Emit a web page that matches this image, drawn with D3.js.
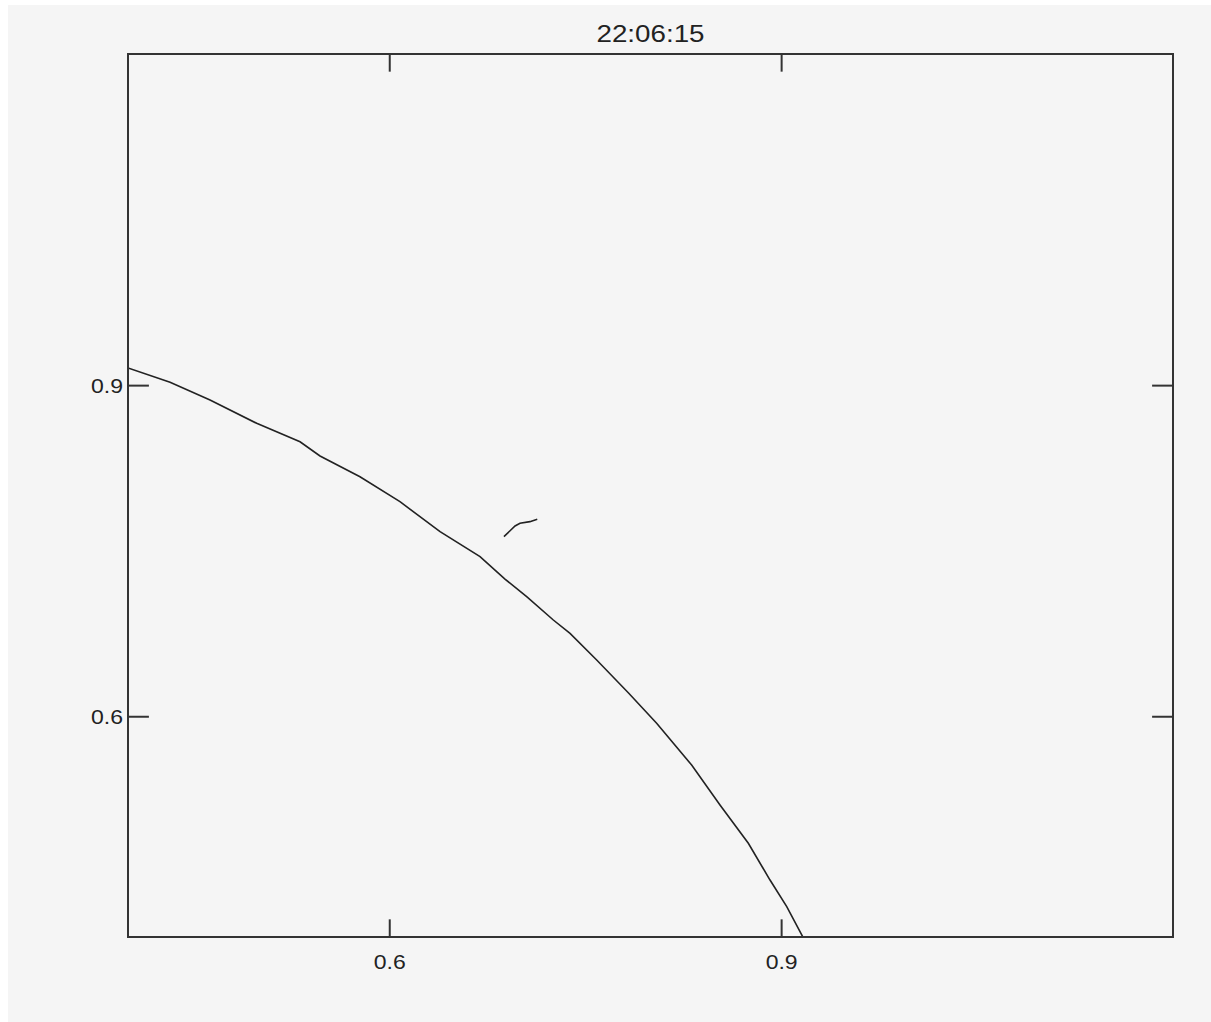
<!DOCTYPE html>
<html>
<head>
<meta charset="utf-8">
<script src="https://cdn.jsdelivr.net/npm/d3@7"></script>
<style>
  html, body { margin: 0; padding: 0; background: #ffffff; }
  svg { display: block; }
  text { font-family: "Liberation Sans", Arial, sans-serif; fill: #222; }
</style>
</head>
<body>
<svg id="chart" width="1211" height="1022"></svg>
<script>
const titleText = "22:06:15";
const xDomain = [0.4, 1.2];
const yDomain = [0.4, 1.2];
const xTickValues = [0.6, 0.9];
const yTickValues = [0.6, 0.9];
const xTickLabels = ["0.6", "0.9"];
const yTickLabels = ["0.6", "0.9"];

// main curve
const curveX = [0.390, 0.400, 0.4322, 0.4628, 0.4985, 0.5317, 0.547, 0.5776, 0.6082, 0.6389, 0.6695,
  0.6886, 0.7052, 0.7256, 0.7384, 0.7588, 0.783, 0.8047, 0.8315, 0.8532, 0.8749, 0.8915, 0.9043, 0.9165, 0.920];
const curveY = [0.921, 0.9155, 0.9026, 0.8865, 0.8654, 0.8487, 0.8358, 0.817, 0.7944, 0.7672, 0.7446,
  0.7243, 0.7083, 0.6872, 0.6751, 0.651, 0.6213, 0.5936, 0.5558, 0.5196, 0.4849, 0.4516, 0.4275, 0.4003, 0.393];

// small fragment
const fragX = [0.6878, 0.6963, 0.7001, 0.7077, 0.7133];
const fragY = [0.7627, 0.7724, 0.7748, 0.7763, 0.7784];

const W = 1211, H = 1022;
const margin = { left: 128, right: 1173, top: 54, bottom: 937 };

const svg = d3.select("#chart");
svg.append("rect").attr("x", 8).attr("y", 5).attr("width", W - 8).attr("height", H - 5).attr("fill", "#f5f5f5");

const x = d3.scaleLinear().domain(xDomain).range([margin.left, margin.right]);
const y = d3.scaleLinear().domain(yDomain).range([margin.bottom, margin.top]);

const plotW = margin.right - margin.left;
const plotH = margin.bottom - margin.top;
const xTickLen = 0.02 * plotH;
const yTickLen = 0.02 * plotW;

svg.append("clipPath").attr("id", "clip").append("rect")
  .attr("x", margin.left).attr("y", margin.top).attr("width", plotW).attr("height", plotH);

const line = d3.line().x(d => x(d[0])).y(d => y(d[1]));
const g = svg.append("g").attr("clip-path", "url(#clip)");
g.append("path").datum(curveX.map((v, i) => [v, curveY[i]]))
  .attr("d", line).attr("fill", "none").attr("stroke", "#222").attr("stroke-width", 1.6);
g.append("path").datum(fragX.map((v, i) => [v, fragY[i]]))
  .attr("d", line).attr("fill", "none").attr("stroke", "#222").attr("stroke-width", 1.6);

// frame
svg.append("rect").attr("x", margin.left).attr("y", margin.top).attr("width", plotW).attr("height", plotH)
  .attr("fill", "none").attr("stroke", "#333").attr("stroke-width", 2);

// axes via d3 axis generators
const axisStyle = sel => {
  sel.select(".domain").remove();
  sel.selectAll(".tick line").attr("stroke", "#333").attr("stroke-width", 2);
  sel.selectAll(".tick text").attr("font-size", 20).attr("fill", "#222")
    .attr("font-family", "Liberation Sans, Arial, sans-serif");
};

const xBottom = svg.append("g").attr("transform", `translate(0,${margin.bottom})`)
  .call(d3.axisBottom(x).tickValues(xTickValues).tickFormat((d, i) => xTickLabels[i])
    .tickSizeInner(-xTickLen).tickSizeOuter(0).tickPadding(0));
axisStyle(xBottom);
xBottom.selectAll(".tick text").attr("y", 32).attr("dy", 0).attr("textLength", 32).attr("lengthAdjust", "spacingAndGlyphs");

const xTop = svg.append("g").attr("transform", `translate(0,${margin.top})`)
  .call(d3.axisTop(x).tickValues(xTickValues).tickFormat("").tickSizeInner(-xTickLen).tickSizeOuter(0));
axisStyle(xTop);

const yLeft = svg.append("g").attr("transform", `translate(${margin.left},0)`)
  .call(d3.axisLeft(y).tickValues(yTickValues).tickFormat((d, i) => yTickLabels[i])
    .tickSizeInner(-yTickLen).tickSizeOuter(0).tickPadding(0));
axisStyle(yLeft);
yLeft.selectAll(".tick text").attr("x", -5).attr("dy", "0.35em").attr("textLength", 32).attr("lengthAdjust", "spacingAndGlyphs");

const yRight = svg.append("g").attr("transform", `translate(${margin.right},0)`)
  .call(d3.axisRight(y).tickValues(yTickValues).tickFormat("").tickSizeInner(-yTickLen).tickSizeOuter(0));
axisStyle(yRight);

svg.append("text").attr("x", (margin.left + margin.right) / 2).attr("y", 42)
  .attr("text-anchor", "middle").attr("font-size", 23)
  .attr("textLength", 108).attr("lengthAdjust", "spacingAndGlyphs")
  .text(titleText);
</script>
</body>
</html>
